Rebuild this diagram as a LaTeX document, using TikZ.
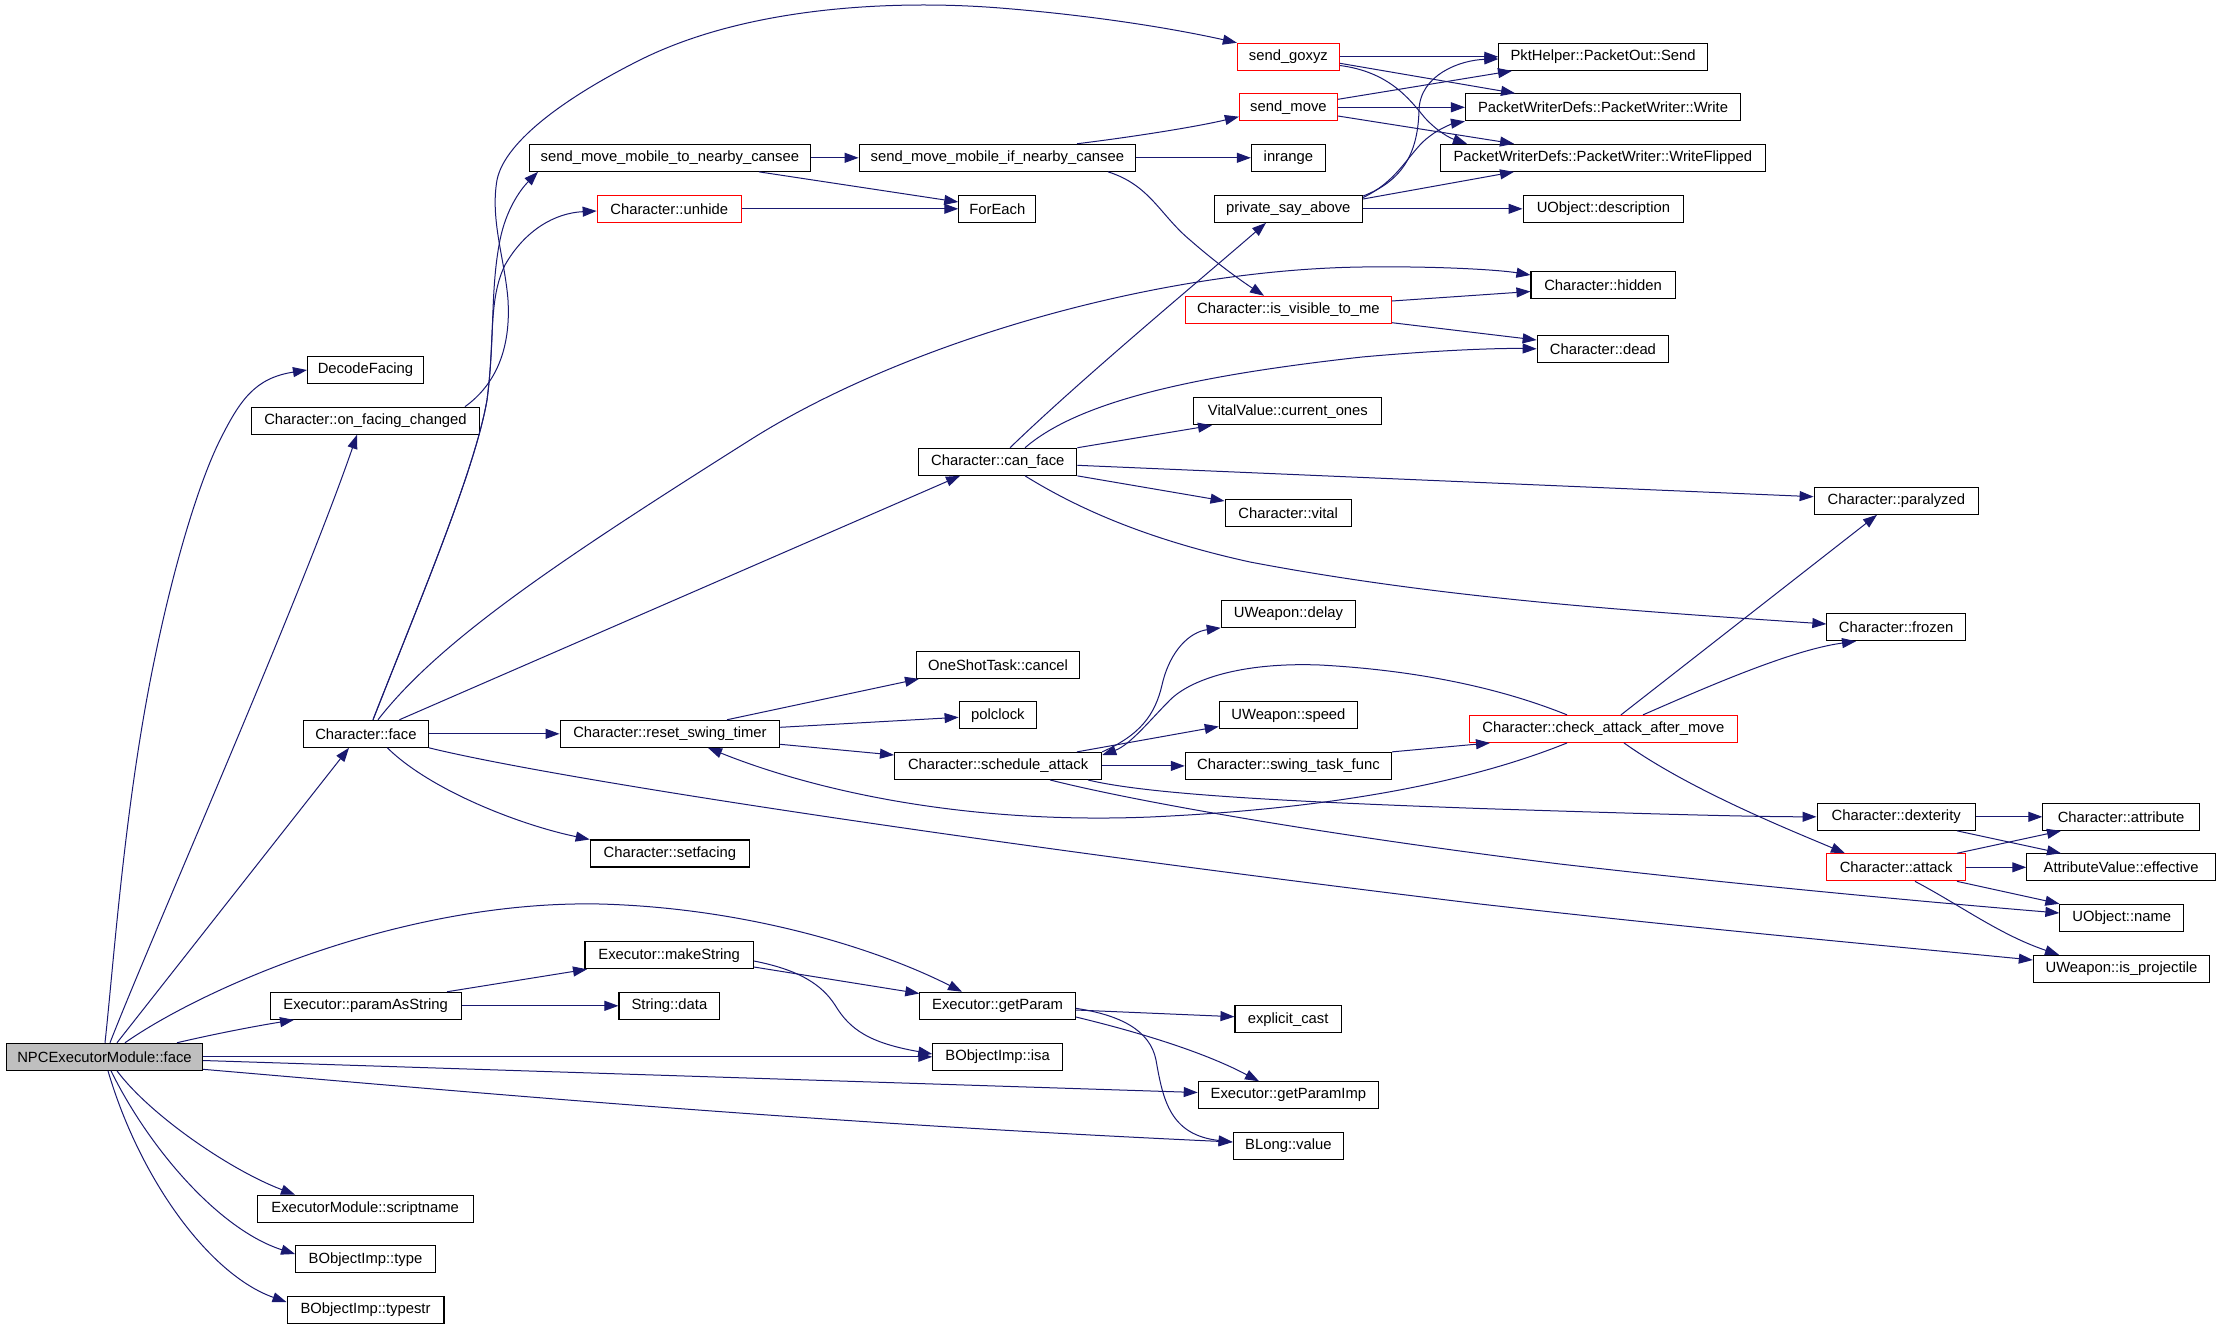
\documentclass[tikz,border=0pt]{standalone}
\usepackage{fontspec}
\setmainfont{Liberation Sans}
\usetikzlibrary{arrows.meta}
\definecolor{edgeblue}{HTML}{191970}
\definecolor{rootgray}{HTML}{BFBFBF}
\begin{document}
\begin{tikzpicture}[x=1pt,y=-1pt,
  fnbox/.style={draw=black, line width=1.1pt, fill=white, inner sep=0pt, minimum height=27pt, font=\fontsize{14.8}{17}\selectfont},
  redbox/.style={fnbox, draw=red},
  rootbox/.style={fnbox, fill=rootgray},
  callarrow/.style={draw=edgeblue, line width=1pt, -{Triangle[length=14pt,width=10pt]}}
]
\fill[white, use as bounding box] (0,0) rectangle (2221,1328);

% nodes
\node[rootbox, minimum width=196pt] (npc) at (104.5,1056.8) {NPCExecutorModule::face};
\node[fnbox, minimum width=116pt] (decode) at (365.5,369.8) {DecodeFacing};
\node[fnbox, minimum width=228pt] (ofc) at (365.5,420.7) {Character::on\_facing\_changed};
\node[fnbox, minimum width=281pt] (smt) at (669.9,157.8) {send\_move\_mobile\_to\_nearby\_cansee};
\node[redbox, minimum width=144pt] (unhide) at (669.2,208.8) {Character::unhide};
\node[redbox, minimum width=102pt] (goxyz) at (1288.4,56.8) {send\_goxyz};
\node[redbox, minimum width=98pt] (sendmove) at (1288.4,107.3) {send\_move};
\node[fnbox, minimum width=276.5pt] (smi) at (997.4,157.8) {send\_move\_mobile\_if\_nearby\_cansee};
\node[fnbox, minimum width=74pt] (inrange) at (1288.4,157.8) {inrange};
\node[fnbox, minimum width=77pt] (foreach) at (997.3,208.8) {ForEach};
\node[fnbox, minimum width=148.5pt] (psa) at (1288.3,208.8) {private\_say\_above};
\node[redbox, minimum width=206pt] (isvis) at (1288.4,309.8) {Character::is\_visible\_to\_me};
\node[fnbox, minimum width=188pt] (vvcur) at (1287.9,411.3) {VitalValue::current\_ones};
\node[fnbox, minimum width=158pt] (canface) at (997.8,461.8) {Character::can\_face};
\node[fnbox, minimum width=208.4pt] (send) at (1603.1,56.8) {PktHelper::PacketOut::Send};
\node[fnbox, minimum width=275pt] (write) at (1603,107.3) {PacketWriterDefs::PacketWriter::Write};
\node[fnbox, minimum width=325pt] (wflip) at (1602.8,157.8) {PacketWriterDefs::PacketWriter::WriteFlipped};
\node[fnbox, minimum width=160.7pt] (descr) at (1603.4,208.8) {UObject::description};
\node[fnbox, minimum width=144.2pt] (hidden) at (1603.1,284.8) {Character::hidden};
\node[fnbox, minimum width=131.4pt] (dead) at (1602.9,348.8) {Character::dead};
\node[fnbox, minimum width=125.4pt] (face) at (365.9,733.8) {Character::face};
\node[fnbox, minimum width=219.6pt] (rst) at (669.9,733.8) {Character::reset\_swing\_timer};
\node[fnbox, minimum width=159.3pt] (setfacing) at (669.9,853.5) {Character::setfacing};
\node[fnbox, minimum width=126.3pt] (vital) at (1288.2,512.8) {Character::vital};
\node[fnbox, minimum width=134.3pt] (delay) at (1288.4,613.8) {UWeapon::delay};
\node[fnbox, minimum width=163pt] (oneshot) at (998,664.8) {OneShotTask::cancel};
\node[fnbox, minimum width=77.5pt] (polclock) at (997.9,715.3) {polclock};
\node[fnbox, minimum width=138.2pt] (speed) at (1288.4,715.3) {UWeapon::speed};
\node[fnbox, minimum width=207.2pt] (sched) at (998.1,765.9) {Character::schedule\_attack};
\node[fnbox, minimum width=206.2pt] (swing) at (1288.4,765.9) {Character::swing\_task\_func};
\node[redbox, minimum width=268.4pt] (cam) at (1603.4,728.9) {Character::check\_attack\_after\_move};
\node[fnbox, minimum width=164.5pt] (paralyzed) at (1896.4,500.8) {Character::paralyzed};
\node[fnbox, minimum width=138.4pt] (frozen) at (1896.1,627.2) {Character::frozen};
\node[fnbox, minimum width=158.3pt] (dex) at (1896.2,816.8) {Character::dexterity};
\node[fnbox, minimum width=156.4pt] (attribute) at (2121.1,816.8) {Character::attribute};
\node[redbox, minimum width=138.4pt] (attack) at (1896.1,867.3) {Character::attack};
\node[fnbox, minimum width=188.6pt] (effective) at (2121.1,867.3) {AttributeValue::effective};
\node[fnbox, minimum width=123.8pt] (oname) at (2121.8,917.8) {UObject::name};
\node[fnbox, minimum width=176.3pt] (isproj) at (2121.5,968.8) {UWeapon::is\_projectile};
\node[fnbox, minimum width=168.4pt] (makestr) at (669.2,955.2) {Executor::makeString};
\node[fnbox, minimum width=190.9pt] (pas) at (365.7,1005.8) {Executor::paramAsString};
\node[fnbox, minimum width=100.8pt] (sdata) at (669.4,1005.8) {String::data};
\node[fnbox, minimum width=215.7pt] (scriptname) at (365.2,1208.7) {ExecutorModule::scriptname};
\node[fnbox, minimum width=139.7pt] (btype) at (365.5,1259.3) {BObjectImp::type};
\node[fnbox, minimum width=156.9pt] (btypestr) at (365.5,1309.8) {BObjectImp::typestr};
\node[fnbox, minimum width=155.5pt] (getparam) at (997.6,1005.8) {Executor::getParam};
\node[fnbox, minimum width=106.2pt] (ecast) at (1288.1,1019.3) {explicit\_cast};
\node[fnbox, minimum width=129.6pt] (isa) at (997.6,1056.8) {BObjectImp::isa};
\node[fnbox, minimum width=180.3pt] (getparamimp) at (1288.4,1095.3) {Executor::getParamImp};
\node[fnbox, minimum width=110.5pt] (blong) at (1288.4,1145.8) {BLong::value};

% edges from NPCExecutorModule::face
\draw[callarrow] (npc.north -| 105,0) .. controls (114,960) and (125,800) .. (155,657) .. controls (175,560) and (200,480) .. (220,440) .. controls (240,400) and (255,378) .. (decode.west |- 0,370);
\draw[callarrow] (npc.north -| 110,0) .. controls (150,940) and (300,600) .. (ofc.south -| 357,0);
\draw[callarrow] (npc.north -| 117,0) -- (face.south -| 349,0);
\draw[callarrow] (npc.north -| 125,0) .. controls (200,990) and (400,900) .. (600,904) .. controls (750,908) and (880,950) .. (getparam.north -| 962,0);
\draw[callarrow] (npc.north -| 177,0) .. controls (210,1035) and (250,1027) .. (pas.south -| 294,0);
\draw[callarrow] (npc.east) -- (isa.west);
\draw[callarrow] (npc.east |- 0,1060.5) -- (getparamimp.west |- 0,1092.5);
\draw[callarrow] (npc.east |- 0,1069.3) .. controls (480,1093) and (800,1122) .. (blong.west |- 0,1142);
\draw[callarrow] (npc.south -| 117,0) .. controls (150,1115) and (230,1170) .. (scriptname.north -| 295,0);
\draw[callarrow] (npc.south -| 111,0) .. controls (150,1150) and (220,1230) .. (btype.west |- 0,1254);
\draw[callarrow] (npc.south -| 108,0) .. controls (140,1180) and (210,1275) .. (btypestr.west |- 0,1302);

% on_facing_changed
\draw[callarrow] (ofc.north -| 465,0) .. controls (495,385) and (511,350) .. (508,300) .. controls (505,260) and (490,220) .. (497,180) .. controls (505,140) and (570,95) .. (640,60) .. controls (750,5) and (900,0) .. (1000,8) .. controls (1100,16) and (1180,30) .. (goxyz.north west);

% Character::face
\draw[callarrow] (face.north -| 373,0) .. controls (420,600) and (475,470) .. (487,400) .. controls (495,340) and (490,290) .. (500,240) .. controls (506,210) and (520,190) .. (smt.south -| 538,0);
\draw[callarrow] (face.north -| 373,0) .. controls (420,600) and (475,470) .. (487,400) .. controls (495,340) and (488,300) .. (505,265) .. controls (525,230) and (555,213) .. (unhide.west |- 0,211);
\draw[callarrow] (face.north -| 378,0) .. controls (440,640) and (560,560) .. (750,440) .. controls (900,345) and (1150,270) .. (1362,267) .. controls (1440,266) and (1500,270) .. (hidden.west |- 0,275);
\draw[callarrow] (face.north -| 399.4,0) -- (canface.south -| 960,0);
\draw[callarrow] (face.east) -- (rst.west);
\draw[callarrow] (face.south -| 387.4,0) .. controls (430,790) and (520,825) .. (setfacing.north west);
\draw[callarrow] (face.south east) .. controls (560,780) and (1000,846) .. (1480,904) .. controls (1700,929) and (1900,947) .. (isproj.west |- 0,960);

% send_move_mobile_to_nearby_cansee, unhide
\draw[callarrow] (smt.east) -- (smi.west);
\draw[callarrow] (smt.south -| 759,0) -- (foreach.west |- 0,202);
\draw[callarrow] (unhide.east) -- (foreach.west);

% send_move_mobile_if_nearby_cansee
\draw[callarrow] (smi.north -| 1077,0) .. controls (1140,136) and (1200,126) .. (sendmove.west |- 0,116.7);
\draw[callarrow] (smi.east) -- (inrange.west);
\draw[callarrow] (smi.south -| 1108,0) .. controls (1150,185) and (1160,215) .. (1190,240) .. controls (1215,262) and (1240,280) .. (isvis.north -| 1264,0);

% send_goxyz, send_move
\draw[callarrow] (goxyz.east) -- (send.west);
\draw[callarrow] (goxyz.east |- 0,63.3) -- (write.north -| 1515,0);
\draw[callarrow] (goxyz.east |- 0,65.5) .. controls (1390,72) and (1410,100) .. (1425,118) .. controls (1438,132) and (1450,138) .. (wflip.north -| 1467,0);
\draw[callarrow] (sendmove.east |- 0,99.3) -- (send.south -| 1512,0);
\draw[callarrow] (sendmove.east) -- (write.west);
\draw[callarrow] (sendmove.east |- 0,116) -- (wflip.north -| 1514,0);

% private_say_above
\draw[callarrow] (psa.east |- 0,196) .. controls (1405,180) and (1418,150) .. (1419,110) .. controls (1420,75) and (1460,60) .. (send.west |- 0,59);
\draw[callarrow] (psa.east |- 0,197.5) .. controls (1400,180) and (1410,150) .. (1430,136) .. controls (1440,128) and (1455,123) .. (write.south west);
\draw[callarrow] (psa.east |- 0,199) -- (wflip.south -| 1514,0);
\draw[callarrow] (psa.east) -- (descr.west);

% is_visible_to_me
\draw[callarrow] (isvis.east |- 0,301) -- (hidden.west |- 0,291.5);
\draw[callarrow] (isvis.east |- 0,322.7) -- (dead.west |- 0,340);

% can_face
\draw[callarrow] (canface.north -| 1010,0) .. controls (1080,380) and (1200,280) .. (psa.south -| 1266,0);
\draw[callarrow] (canface.north -| 1025,0) .. controls (1080,400) and (1200,375) .. (1362,357) .. controls (1440,350) and (1500,348) .. (dead.west);
\draw[callarrow] (canface.north east) -- (vvcur.south -| 1212,0);
\draw[callarrow] (canface.east |- 0,465.3) -- (paralyzed.west |- 0,496.7);
\draw[callarrow] (canface.south east) -- (vital.west |- 0,501);
\draw[callarrow] (canface.south -| 1025,0) .. controls (1080,510) and (1150,540) .. (1250,562) .. controls (1450,600) and (1650,612) .. (frozen.west |- 0,624);

% reset_swing_timer
\draw[callarrow] (rst.north -| 727,0) -- (oneshot.south -| 919,0);
\draw[callarrow] (rst.east |- 0,727.3) -- (polclock.west |- 0,717.3);
\draw[callarrow] (rst.east |- 0,744.3) -- (sched.west |- 0,755);

% schedule_attack
\draw[callarrow] (sched.north east) .. controls (1140,735) and (1155,715) .. (1162,685) .. controls (1170,650) and (1190,632) .. (delay.south west);
\draw[callarrow] (sched.north -| 1077,0) -- (speed.west |- 0,726.5);
\draw[callarrow] (sched.east) -- (swing.west);
\draw[callarrow] (sched.south -| 1088,0) .. controls (1150,795) and (1300,802) .. (1480,808.5) .. controls (1650,814) and (1750,816.7) .. (dex.west);
\draw[callarrow] (sched.south -| 1050,0) .. controls (1150,805) and (1350,838) .. (1560,864) .. controls (1750,886) and (1950,904) .. (oname.west |- 0,913);

% swing_task_func
\draw[callarrow] (swing.north east) -- (cam.south -| 1490,0);

% check_attack_after_move
\draw[callarrow] (cam.north -| 1567,0) .. controls (1530,700) and (1450,672) .. (1320,665) .. controls (1240,662) and (1190,680) .. (1170,700) .. controls (1150,720) and (1130,745) .. (sched.east |- 0,755);
\draw[callarrow] (cam.south -| 1567,0) .. controls (1480,778) and (1350,808) .. (1150,817) .. controls (950,825) and (800,785) .. (rst.south -| 708,0);
\draw[callarrow] (cam.north -| 1621,0) -- (paralyzed.south -| 1877,0);
\draw[callarrow] (cam.north -| 1643,0) .. controls (1700,690) and (1790,650) .. (frozen.south -| 1856,0);
\draw[callarrow] (cam.south -| 1624,0) .. controls (1690,790) and (1790,830) .. (attack.north -| 1845,0);

% attack, dexterity
\draw[callarrow] (attack.north -| 1957,0) -- (attribute.south -| 2061,0);
\draw[callarrow] (attack.east) -- (effective.west);
\draw[callarrow] (attack.south -| 1957,0) -- (oname.north west);
\draw[callarrow] (attack.south -| 1915,0) .. controls (1960,905) and (2000,935) .. (isproj.north -| 2059,0);
\draw[callarrow] (dex.east) -- (attribute.west);
\draw[callarrow] (dex.south -| 1957,0) -- (effective.north -| 2061,0);

% paramAsString, makeString, getParam
\draw[callarrow] (pas.north -| 447,0) -- (makestr.south -| 587,0);
\draw[callarrow] (pas.east) -- (sdata.west);
\draw[callarrow] (makestr.east |- 0,967) -- (getparam.west |- 0,993.5);
\draw[callarrow] (makestr.east |- 0,961) .. controls (800,970) and (822,985) .. (835,1005) .. controls (850,1030) and (870,1043) .. (isa.west |- 0,1054);
\draw[callarrow] (getparam.east |- 0,1010) -- (ecast.west |- 0,1016.7);
\draw[callarrow] (getparam.east |- 0,1017) .. controls (1130,1030) and (1200,1050) .. (getparamimp.north -| 1259,0);
\draw[callarrow] (getparam.east |- 0,1008.3) .. controls (1120,1015) and (1150,1030) .. (1156,1060) .. controls (1163,1100) and (1170,1135) .. (blong.west |- 0,1142);
\end{tikzpicture}
\end{document}
